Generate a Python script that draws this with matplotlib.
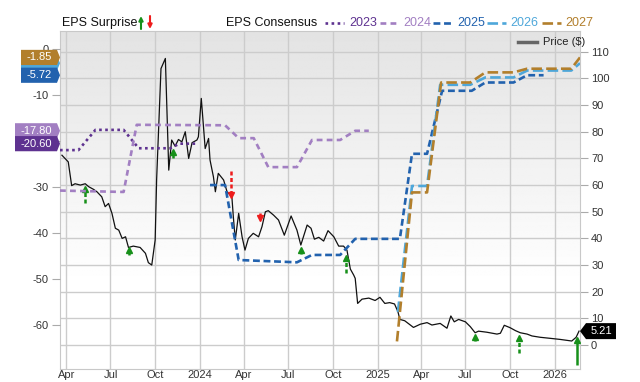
import matplotlib
matplotlib.use("Agg")
import matplotlib.pyplot as plt
import matplotlib.transforms as mtransforms
from matplotlib.patches import Polygon
from matplotlib.lines import Line2D
import numpy as np
import pandas as pd

plt.rcParams['font.family'] = ['Liberation Sans', 'DejaVu Sans']

# Price ($) - right axis
price_dates = ['2023-03-23', '2023-04-05', '2023-04-12', '2023-04-19', '2023-04-30', '2023-05-10', '2023-05-17',
               '2023-05-27', '2023-06-03', '2023-06-13', '2023-06-20', '2023-06-27', '2023-07-04', '2023-07-11',
               '2023-07-18', '2023-07-25', '2023-08-01', '2023-08-07', '2023-08-17', '2023-08-31', '2023-09-11',
               '2023-09-17', '2023-09-24', '2023-10-01', '2023-10-04', '2023-10-13', '2023-10-22', '2023-10-29',
               '2023-11-04', '2023-11-11', '2023-11-18', '2023-11-25', '2023-12-02', '2023-12-09', '2023-12-16',
               '2023-12-26', '2023-12-29', '2024-01-04', '2024-01-12', '2024-01-19', '2024-01-22', '2024-01-29',
               '2024-02-02', '2024-02-08', '2024-02-19', '2024-02-26', '2024-03-07', '2024-03-10', '2024-03-14',
               '2024-03-21', '2024-03-28', '2024-04-03', '2024-04-10', '2024-04-20', '2024-05-01', '2024-05-08',
               '2024-05-15', '2024-05-21', '2024-06-01', '2024-06-11', '2024-06-23', '2024-07-07', '2024-07-19',
               '2024-07-27', '2024-08-09', '2024-08-17', '2024-08-24', '2024-09-02', '2024-09-12', '2024-09-21',
               '2024-10-03', '2024-10-13', '2024-10-23', '2024-10-30', '2024-11-06', '2024-11-13', '2024-11-16',
               '2024-11-21', '2024-11-30', '2024-12-14', '2024-12-27', '2025-01-06', '2025-01-16', '2025-01-26',
               '2025-02-05', '2025-02-12', '2025-02-16', '2025-02-26', '2025-03-16', '2025-03-30', '2025-04-13',
               '2025-04-23', '2025-05-10', '2025-05-24', '2025-06-01', '2025-06-08', '2025-06-17', '2025-07-01',
               '2025-07-11', '2025-07-21', '2025-07-28', '2025-08-14', '2025-09-04', '2025-09-11', '2025-09-19',
               '2025-10-01', '2025-10-12', '2025-10-22', '2025-11-05', '2025-11-15', '2025-12-02', '2025-12-23',
               '2026-01-12', '2026-02-05', '2026-02-14', '2026-02-20']
prices = [71.2, 68.7, 59.8, 60.5, 60.0, 60.5, 59.4, 58.4, 57.5, 55.6, 51.9, 53.1, 49.4, 43.8, 43.1, 40.0, 40.6,
          36.6, 37.1, 36.6, 34.4, 30.9, 30.0, 39.4, 62.0, 103.7, 107.5, 65.6, 76.9, 74.6, 77.1, 76.2, 80.0, 70.0,
          75.9, 76.9, 78.1, 92.5, 73.7, 77.5, 69.4, 63.1, 57.5, 64.4, 61.9, 57.5, 55.6, 48.1, 39.4, 49.4, 40.6,
          35.6, 40.0, 41.9, 40.6, 44.4, 50.0, 50.4, 48.7, 46.9, 41.2, 48.4, 43.1, 37.5, 45.0, 43.8, 39.7, 40.4,
          39.0, 42.9, 40.6, 37.1, 37.1, 35.6, 28.5, 26.2, 25.0, 15.6, 17.2, 17.6, 16.7, 17.9, 15.6, 15.9, 15.4,
          12.5, 9.6, 9.1, 6.6, 7.8, 8.4, 7.5, 8.1, 6.3, 10.9, 8.7, 9.6, 8.7, 6.9, 4.6, 5.2, 4.8, 4.1, 4.4, 7.4,
          6.5, 5.4, 4.6, 4.1, 3.4, 2.9, 2.5, 2.1, 1.5, 2.9, 5.21]

# EPS consensus by fiscal year - left axis
eps23_dates = ['2023-03-19', '2023-04-26', '2023-05-31', '2023-07-28', '2023-08-28', '2023-11-01', '2023-11-20',
               '2023-12-24']
eps23 = [-22.0, -22.0, -17.6, -17.6, -21.6, -21.6, -20.6, -20.6]

eps24_dates = ['2023-03-19', '2023-07-28', '2023-08-24', '2024-02-22', '2024-03-21', '2024-04-21', '2024-05-21',
               '2024-07-19', '2024-08-19', '2024-10-16', '2024-11-16', '2024-12-14']
eps24 = [-30.8, -31.1, -16.5, -16.6, -19.4, -19.4, -25.7, -25.7, -19.8, -19.8, -17.8, -17.8]

eps25_dates = ['2024-01-22', '2024-02-22', '2024-03-21', '2024-07-19', '2024-08-19', '2024-10-16', '2024-11-16',
               '2025-02-16', '2025-03-13', '2025-04-13', '2025-05-14', '2025-07-14', '2025-08-11', '2025-10-08',
               '2025-11-05', '2025-12-09']
eps25 = [-29.6, -29.6, -45.9, -46.4, -44.8, -44.8, -41.3, -41.3, -22.8, -22.8, -9.1, -9.1, -7.3, -7.3, -5.72, -5.72]

eps26_dates = ['2025-02-12', '2025-03-13', '2025-04-13', '2025-05-10', '2025-07-11', '2025-08-11', '2025-10-08',
               '2025-11-05', '2026-02-04', '2026-02-22']
eps26 = [-57.2, -29.8, -29.8, -7.8, -7.8, -6.2, -6.2, -4.7, -4.7, -3.1]

eps27_dates = ['2025-02-10', '2025-03-13', '2025-04-13', '2025-05-12', '2025-07-11', '2025-08-11', '2025-10-08',
               '2025-11-05', '2026-02-04', '2026-02-22']
eps27 = [-63.6, -31.2, -31.2, -7.3, -7.3, -5.1, -5.1, -4.3, -4.3, -1.85]

# EPS surprise arrows (price coordinates)
surprise_dates = ['2023-05-10', '2023-08-09', '2023-11-06', '2024-03-06', '2024-05-03', '2024-07-28',
                  '2024-10-28', '2025-07-21', '2025-10-20', '2026-02-16']
surprise_tip = [59.6, 36.6, 73.4, 55.1, 46.6, 36.9, 33.7, 4.1, 3.7, 3.1]
surprise_tail = [53.2, 33.7, 70.1, 65.1, 49.6, 34.1, 26.9, 1.5, -2.9, -7.5]
surprise_beat = [True, True, True, False, False, True, True, True, True, True]
surprise_dashed = [True, False, False, True, False, False, True, False, True, False]

tick_dates = ['2023-04-01', '2023-07-01', '2023-10-01', '2024-01-01', '2024-04-01', '2024-07-01',
              '2024-10-01', '2025-01-01', '2025-04-01', '2025-07-01', '2025-10-01', '2026-01-01']
tick_labels = ['Apr', 'Jul', 'Oct', '2024', 'Apr', 'Jul', 'Oct', '2025', 'Apr', 'Jul', 'Oct', '2026']
eps_ticks = [0, -10, -20, -30, -40, -50, -60]
eps_tick_labels = ['0', '-10', '', '-30', '-40', '-50', '-60']  # -20 sits under the tags

years = ['2023', '2024', '2025', '2026', '2027']
year_colors = ['#5e3290', '#a27fc2', '#2262ae', '#4ea7da', '#b27f2c']
year_styles = [(0, (1, 1.3)), (0, (2.2, 1.6)), (0, (2.6, 1.4)), (0, (4, 1.6)), (0, (4, 1.6))]
eps_series = [(eps23_dates, eps23), (eps24_dates, eps24), (eps25_dates, eps25),
              (eps26_dates, eps26), (eps27_dates, eps27)]
eps_tags = ['-20.60', '-17.80', '-5.72', None, '-1.85']

W, H = 640, 382
fig = plt.figure(figsize=(W / 100, H / 100), dpi=100)
ax = fig.add_axes([60 / W, 1 - 369 / H, 520 / W, 338 / H])
ax_eps = ax.twinx()

# background gradient
t = np.linspace(0, 1, 256)
shade = np.where(t < 0.25, 1.0, 1.0 - 0.11 * (t - 0.25) / 0.75)
ax.imshow(np.tile(shade[:, None], (1, 2)), extent=[0, 1, 0, 1], transform=ax.transAxes, origin='lower',
          aspect='auto', cmap='gray', vmin=0, vmax=1, zorder=0)

ax.plot(pd.to_datetime(price_dates), prices, color='#111111', lw=0.9, zorder=3)

for (d, v), c, ls in zip(eps_series, year_colors, year_styles):
    ax_eps.plot(pd.to_datetime(d), v, color=c, lw=1.9, linestyle=ls, zorder=3)

# surprise arrows
for d, tip, tail, beat, dashed in zip(surprise_dates, surprise_tip, surprise_tail, surprise_beat, surprise_dashed):
    dt = pd.Timestamp(d)
    col = '#17901a' if beat else '#ee1c1c'
    ls = (0, (1.6, 1.0)) if dashed else '-'
    sgn = -1 if beat else 1
    ax.plot([dt, dt], [tail, tip + sgn * 1.8], color=col, lw=1.8, linestyle=ls, zorder=4,
            solid_capstyle='butt', dash_capstyle='butt')
    ax.plot([dt], [tip + sgn * 1.1], marker='^' if beat else 'v', color=col, markersize=5, zorder=5, lw=0)

xmin, xmax = pd.Timestamp('2023-03-19'), pd.Timestamp('2026-02-22')
ax.set_xlim(xmin, xmax)
ax.set_ylim(-9, 117.8)
ax_eps.set_ylim(-69.6, 3.9)

ax.set_xticks(pd.to_datetime(tick_dates))
ax.set_xticklabels(tick_labels)
ax.set_yticks(range(0, 111, 10))
ax.yaxis.tick_right()
ax_eps.yaxis.tick_left()
ax_eps.set_yticks(eps_ticks)
ax_eps.set_yticklabels(eps_tick_labels)
ax.grid(True, color='#cccccc', lw=1, zorder=1)
ax.set_axisbelow(True)
ax.tick_params(axis='x', length=0, pad=1, labelsize=8, labelcolor='#333333')
ax.tick_params(axis='y', length=6, width=0.8, color='#aaaaaa', pad=2, labelsize=8, labelcolor='#333333')
ax_eps.tick_params(axis='y', length=6, width=0.8, color='#aaaaaa', pad=2, labelsize=8, labelcolor='#333333')
for s in ax.spines.values():
    s.set_color('#c8c8c8')
for s in ax_eps.spines.values():
    s.set_visible(False)

# value tags on the left (EPS) and right (price)
blend_eps = mtransforms.blended_transform_factory(ax_eps.transAxes, ax_eps.transData)
order = [1, 0, 3, 2, 4]
for i in order:
    v = eps_series[i][1][-1]
    left = -45 / 520 if i < 2 else -39 / 520
    hh = 1.65
    poly = Polygon([[left, v - hh], [-3 / 520, v - hh], [0, v], [-3 / 520, v + hh], [left, v + hh]],
                   closed=True, transform=blend_eps, facecolor=year_colors[i], edgecolor='none',
                   clip_on=False, zorder=6)
    ax_eps.add_patch(poly)
    if eps_tags[i]:
        ax_eps.text((left - 3 / 520) / 2, v, eps_tags[i], transform=blend_eps, ha='center', va='center',
                    color='white', fontsize=8, clip_on=False, zorder=7)

blend_p = mtransforms.blended_transform_factory(ax.transAxes, ax.transData)
last = prices[-1]
hp = 3.0
ax.add_patch(Polygon([[1.0, last], [1 + 6 / 520, last - hp], [1 + 36 / 520, last - hp],
                      [1 + 36 / 520, last + hp], [1 + 6 / 520, last + hp]], closed=True,
                     transform=blend_p, facecolor='black', edgecolor='none', clip_on=False, zorder=6))
ax.text(1 + 21 / 520, last, f'{last:.2f}', transform=blend_p, ha='center', va='center', color='white',
        fontsize=8, clip_on=False, zorder=7)


# legends (figure pixel positions)
def fx(x):
    return x / W


def fy(y):
    return 1 - y / H


fig.text(fx(62), fy(23), 'EPS Surprise', ha='left', va='center', fontsize=9, color='#111111')
ax.annotate('', xy=(141, H - 16), xytext=(141, H - 29), xycoords='figure pixels', textcoords='figure pixels',
            arrowprops=dict(arrowstyle='-|>', color='#17901a', lw=1.5, mutation_scale=6, shrinkA=0, shrinkB=0))
ax.annotate('', xy=(150, H - 29), xytext=(150, H - 16), xycoords='figure pixels', textcoords='figure pixels',
            arrowprops=dict(arrowstyle='-|>', color='#ee1c1c', lw=1.5, mutation_scale=6, shrinkA=0, shrinkB=0))
fig.text(fx(226), fy(23), 'EPS Consensus', ha='left', va='center', fontsize=9, color='#111111')
sample_x = [325, 380, 433, 487, 542]
label_x = [349, 403, 457, 510, 565]
for sx, lx, yr, c, ls in zip(sample_x, label_x, years, year_colors, year_styles):
    fig.add_artist(Line2D([fx(sx), fx(sx + 19)], [fy(23), fy(23)], transform=fig.transFigure,
                          color=c, lw=1.9, linestyle=ls))
    fig.text(fx(lx), fy(23), yr, ha='left', va='center', fontsize=9, color=c)

fig.add_artist(Line2D([fx(518), fx(537)], [fy(42), fy(42)], transform=fig.transFigure, color='#666666', lw=2.5))
fig.text(fx(543), fy(42), 'Price ($)', ha='left', va='center', fontsize=8, color='#222222')

fig.savefig('out.png', dpi=100)
